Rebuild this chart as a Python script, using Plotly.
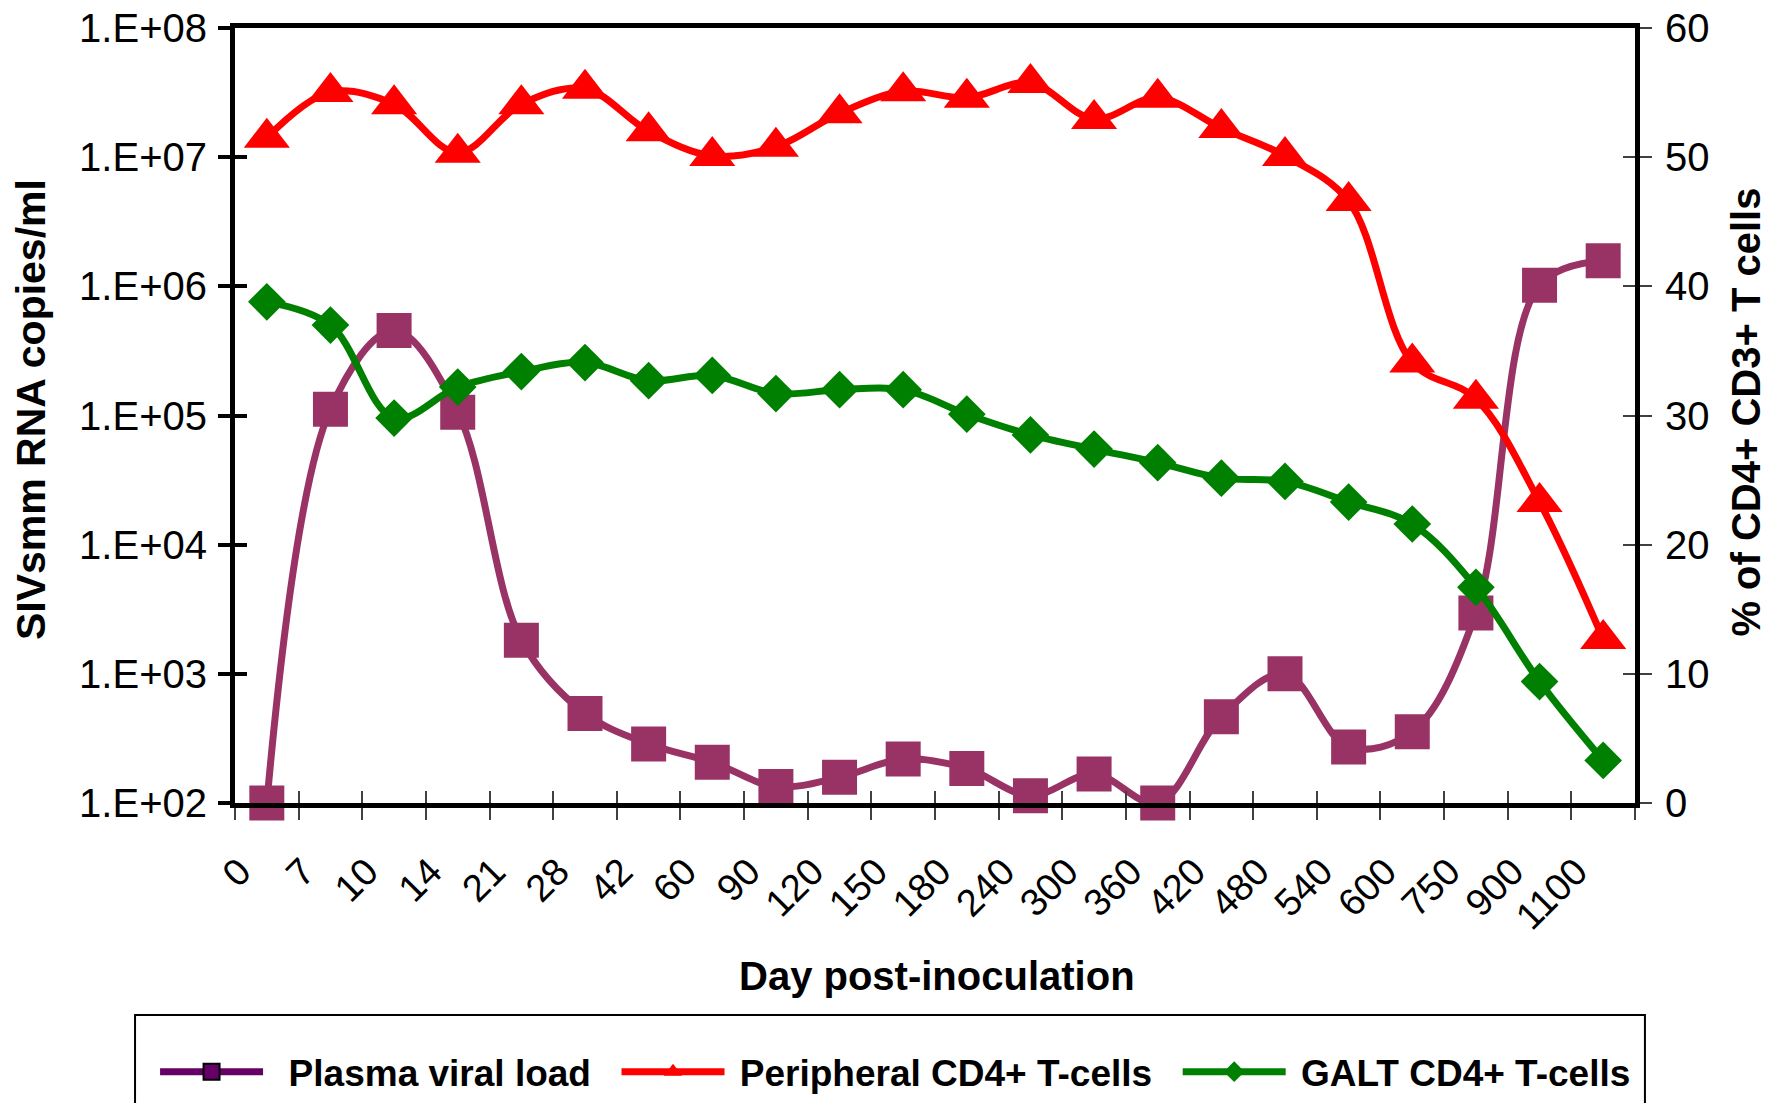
import plotly.graph_objects as go

# Sampling days (categorical x axis)
days = ["0", "7", "10", "14", "21", "28", "42", "60", "90", "120", "150",
        "180", "240", "300", "360", "420", "480", "540", "600", "750", "900", "1100"]

# Plasma SIVsmm RNA (copies/ml, left log axis)
viral_load = [100, 1.12e5, 4.55e5, 1.06e5, 1.82e3, 494, 286, 207, 134, 158, 219,
              185, 114, 168, 100, 465, 1000, 271, 356, 2.96e3, 1.02e6, 1.58e6]

# % of CD4+ among CD3+ T cells (right axis)
peripheral_cd4 = [51.5, 55.05, 54.1, 50.35, 54.1, 55.3, 52.0, 50.1, 50.8, 53.4, 55.1,
                  54.6, 55.75, 52.95, 54.6, 52.25, 50.1, 46.6, 34.1, 31.3, 23.3, 12.7]
galt_cd4 = [38.8, 37.0, 29.8, 32.2, 33.4, 34.1, 32.7, 33.1, 31.7, 32.0, 32.0,
            30.1, 28.5, 27.4, 26.35, 25.15, 24.9, 23.3, 21.6, 16.7, 9.4, 3.3]

viral_ticks = [1e2, 1e3, 1e4, 1e5, 1e6, 1e7, 1e8]
viral_tick_text = ["1.E+02", "1.E+03", "1.E+04", "1.E+05", "1.E+06", "1.E+07", "1.E+08"]
pct_ticks = [0, 10, 20, 30, 40, 50, 60]

FONT = "Liberation Sans, Arial, sans-serif"
PLUM = "#993366"
PLUM_DARK = "#660066"
RED = "#FF0000"
GREEN = "#008000"
NB = "\u00a0"  # keeps breathing room around legend labels

fig = go.Figure()

fig.add_trace(go.Scatter(
    x=days, y=viral_load, name="Plasma viral load", mode="lines+markers",
    line=dict(color=PLUM, width=7, shape="spline", smoothing=1),
    marker=dict(symbol="square", size=35, color=PLUM),
    showlegend=False, cliponaxis=False, xaxis="x", yaxis="y"))

# legend swatch for the viral load series
fig.add_trace(go.Scatter(
    x=[None], y=[None], name=NB * 2 + "Plasma viral load" + NB * 2, mode="lines+markers",
    line=dict(color=PLUM_DARK, width=7),
    marker=dict(symbol="square", size=16, color=PLUM_DARK, line=dict(color="black", width=2)),
    legendrank=1, xaxis="x", yaxis="y"))

fig.add_trace(go.Scatter(
    x=days, y=peripheral_cd4, name=NB + "Peripheral CD4+ T-cells" + NB * 2,
    mode="lines+markers",
    line=dict(color=RED, width=7, shape="spline", smoothing=1),
    marker=dict(symbol="triangle-up", size=40, color=RED),
    legendrank=2, cliponaxis=False, xaxis="x", yaxis="y2"))

fig.add_trace(go.Scatter(
    x=days, y=galt_cd4, name=NB + "GALT CD4+ T-cells", mode="lines+markers",
    line=dict(color=GREEN, width=7, shape="spline", smoothing=1),
    marker=dict(symbol="diamond", size=29, color=GREEN),
    legendrank=3, cliponaxis=False, xaxis="x", yaxis="y2"))

# companion axes carrying the inner half of the crossing tick marks
fig.add_trace(go.Scatter(x=[None], y=[None], xaxis="x2", yaxis="y3",
                         showlegend=False, hoverinfo="skip"))
fig.add_trace(go.Scatter(x=[None], y=[None], xaxis="x2", yaxis="y4",
                         showlegend=False, hoverinfo="skip"))

tick_font = dict(family=FONT, size=40, color="black")

fig.update_layout(
    width=1779, height=1103,
    margin=dict(l=235, r=144, t=28, b=300, autoexpand=False),
    paper_bgcolor="white", plot_bgcolor="white",
    font=dict(family=FONT, color="black"),
    showlegend=True,
    xaxis=dict(
        type="category", range=[-0.5, 21.5], tickson="boundaries",
        ticks="outside", ticklen=12, tickwidth=2, tickcolor="#404040",
        tickangle=-45, tickfont=dict(family=FONT, size=38, color="black"),
        ticklabelstandoff=26, ticklabelshift=-27,
        showline=True, linewidth=5, linecolor="black", mirror=True,
        showgrid=False, zeroline=False, fixedrange=True),
    xaxis2=dict(
        overlaying="x", anchor="y", side="bottom", range=[-0.5, 21.5],
        tickmode="array", tickvals=[i - 0.5 for i in range(len(days) + 1)],
        ticks="inside", ticklen=12, tickwidth=2, tickcolor="#404040",
        showticklabels=False, showgrid=False, zeroline=False, showline=False),
    yaxis=dict(
        type="log", range=[2, 8], tickmode="array",
        tickvals=viral_ticks, ticktext=viral_tick_text,
        ticks="outside", ticklen=12, tickwidth=4, tickcolor="black",
        tickfont=tick_font, ticklabelstandoff=3,
        showline=True, linewidth=5, linecolor="black",
        showgrid=False, zeroline=False),
    yaxis2=dict(
        overlaying="y", side="right", anchor="x", range=[0, 60],
        tickmode="array", tickvals=pct_ticks,
        ticks="outside", ticklen=12, tickwidth=2, tickcolor="#404040",
        tickfont=tick_font, ticklabelstandoff=5,
        showline=True, linewidth=5, linecolor="black",
        showgrid=False, zeroline=False),
    yaxis3=dict(
        overlaying="y", anchor="x", side="left", type="log", range=[2, 8],
        tickmode="array", tickvals=viral_ticks,
        ticks="inside", ticklen=12, tickwidth=4, tickcolor="black",
        showticklabels=False, showgrid=False, zeroline=False, showline=False),
    yaxis4=dict(
        overlaying="y", anchor="x", side="right", range=[0, 60],
        tickmode="array", tickvals=pct_ticks,
        ticks="inside", ticklen=12, tickwidth=2, tickcolor="#404040",
        showticklabels=False, showgrid=False, zeroline=False, showline=False),
    legend=dict(
        orientation="h", x=-0.0571, xanchor="left", y=-0.3473, yanchor="middle",
        font=dict(family=FONT, size=37, color="black", weight="bold"),
        bgcolor="rgba(0,0,0,0)", borderwidth=0, itemwidth=103,
        traceorder="normal"),
    annotations=[
        dict(text="<b>SIVsmm RNA copies/ml</b>", xref="paper", yref="paper",
             x=-0.1457, y=0.507, textangle=-90, showarrow=False,
             font=dict(family=FONT, size=41, color="black"),
             xanchor="center", yanchor="middle"),
        dict(text="<b>% of CD4+ CD3+ T cells</b>", xref="paper", yref="paper",
             x=1.079, y=0.5045, textangle=-90, showarrow=False,
             font=dict(family=FONT, size=40, color="black"),
             xanchor="center", yanchor="middle"),
        dict(text="<b>Day post-inoculation</b>", xref="paper", yref="paper",
             x=0.5011, y=-0.2236, showarrow=False,
             font=dict(family=FONT, size=40, color="black"),
             xanchor="center", yanchor="middle"),
    ],
    shapes=[
        dict(type="rect", xref="paper", yref="paper",
             x0=-0.0714, x1=1.0071, y0=-0.2735, y1=-0.40,
             line=dict(color="black", width=2), fillcolor="rgba(0,0,0,0)",
             layer="above"),
    ],
)

fig.write_html("out.html")
